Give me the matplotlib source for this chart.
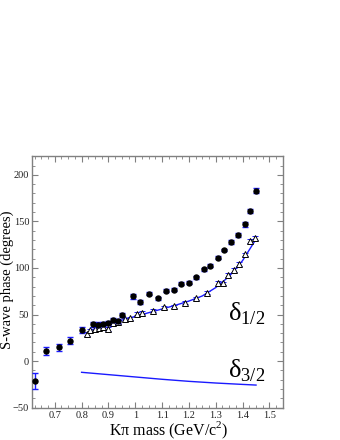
import matplotlib
matplotlib.use("Agg")
import matplotlib.pyplot as plt
from matplotlib.ticker import MultipleLocator, FuncFormatter

plt.rcParams['font.family'] = ['Liberation Serif', 'DejaVu Serif']
plt.rcParams['mathtext.fontset'] = 'custom'
plt.rcParams['mathtext.rm'] = 'Liberation Serif'

# Filled circles: measured S-wave phase
circ_mass = [0.628, 0.667, 0.714, 0.758, 0.800, 0.841, 0.862, 0.880, 0.900, 0.918, 0.935, 0.952,
             0.990, 1.019, 1.051, 1.084, 1.113, 1.143, 1.172, 1.200, 1.228, 1.255, 1.280,
             1.307, 1.331, 1.357, 1.381, 1.407, 1.429, 1.451]
circ_phase = [-21.0, 10.7, 14.7, 22.0, 33.5, 39.4, 39.0, 40.0, 41.0, 44.0, 43.0, 49.4,
              69.7, 63.6, 72.6, 67.3, 75.4, 76.5, 83.3, 84.0, 90.0, 98.4, 102.3,
              111.2, 119.4, 127.7, 135.2, 147.0, 161.3, 183.0]
circ_err = [8.5, 4.0, 4.0, 3.5, 3.0, 2.5, 2.5, 2.5, 2.5, 2.5, 2.5, 2.5,
            2.5, 2.5, 2.0, 1.5, 1.5, 1.5, 1.5, 1.5, 1.5, 1.5, 1.5,
            1.5, 1.5, 2.0, 2.0, 2.5, 2.5, 3.0]

# Open triangles: LASS delta_1/2 phase
tri_mass = [0.820, 0.831, 0.850, 0.866, 0.881, 0.900, 0.918, 0.936, 0.961, 0.980, 1.007, 1.025,
            1.066, 1.107, 1.146, 1.187, 1.227, 1.267, 1.307, 1.328, 1.347, 1.366, 1.387,
            1.408, 1.428, 1.446]
tri_phase = [29.0, 33.0, 34.7, 36.0, 36.8, 34.7, 41.0, 41.8, 44.7, 46.0, 51.0, 51.8,
             54.0, 57.6, 59.0, 62.6, 67.3, 73.3, 83.4, 83.4, 92.3, 97.6, 104.0,
             114.5, 128.8, 132.5]
tri_err = [2.0, 2.0, 2.0, 2.0, 2.0, 2.0, 2.0, 2.0, 1.5, 1.5, 1.5, 1.5,
           1.5, 1.5, 1.5, 1.5, 1.5, 1.5, 2.5, 2.0, 2.0, 2.0, 2.0,
           2.0, 2.0, 2.0]

# Fitted curves
fit12_mass = [0.83, 0.85, 0.90, 0.95, 1.00, 1.05, 1.10, 1.15, 1.20, 1.25, 1.30, 1.35, 1.40, 1.45]
fit12_phase = [32.0, 35.0, 40.0, 44.0, 48.0, 52.0, 56.0, 60.0, 64.5, 70.0, 79.0, 91.0, 108.0, 131.0]
fit32_mass = [0.80, 0.90, 1.00, 1.10, 1.20, 1.30, 1.40, 1.45]
fit32_phase = [-12.0, -14.5, -17.0, -19.5, -21.7, -23.5, -25.0, -25.7]

blue = '#1a1aff'
frame = '#808080'

fig = plt.figure(figsize=(3.4, 4.4), dpi=100)
ax = fig.add_axes([0.094, 0.0734, 0.738, 0.5716])

ax.plot(fit12_mass, fit12_phase, color=blue, lw=1.0, zorder=2)
ax.plot(fit32_mass, fit32_phase, color=blue, lw=1.0, zorder=2)

ax.errorbar(tri_mass, tri_phase, yerr=tri_err, fmt='^', ms=4.5, mfc='white', mec='black',
            mew=0.7, ecolor=blue, elinewidth=1.0, capsize=2.2, capthick=1.0, zorder=3)
ax.errorbar(circ_mass, circ_phase, yerr=circ_err, fmt='o', ms=3.6, mfc='black', mec='black',
            ecolor=blue, elinewidth=1.0, capsize=2.2, capthick=1.0, zorder=4)

ax.set_xlim(0.615, 1.55)
ax.set_ylim(-50, 220)

ax.xaxis.set_major_locator(MultipleLocator(0.1))
ax.xaxis.set_minor_locator(MultipleLocator(0.025))
ax.yaxis.set_major_locator(MultipleLocator(50))
ax.yaxis.set_minor_locator(MultipleLocator(10))
ax.xaxis.set_major_formatter(FuncFormatter(lambda v, p: ('%g' % round(v, 2))))

ax.tick_params(which='both', direction='in', top=True, right=True, color=frame, labelsize=7.5,
               labelcolor='#222222', pad=2.5)
ax.tick_params(axis='y', pad=2)
ax.tick_params(which='major', length=4, width=0.8)
ax.tick_params(which='minor', length=2, width=0.6)
for s in ax.spines.values():
    s.set_color(frame)
    s.set_linewidth(1.0)

fig.text(0.497, 0.0095, 'Kπ mass (GeV/c$^{\\mathrm{2}}$)', fontsize=11.5, ha='center',
         va='baseline')
fig.text(0.020, 0.364, 'S-wave phase (degrees)', fontsize=10.5, ha='center', va='center',
         rotation=90)

ax.text(1.345, 51, 'δ$_{\\mathrm{1/2}}$', fontsize=19, ha='left', va='center')
ax.text(1.345, -10, 'δ$_{\\mathrm{3/2}}$', fontsize=19, ha='left', va='center')

fig.savefig('out.png', dpi=100)
